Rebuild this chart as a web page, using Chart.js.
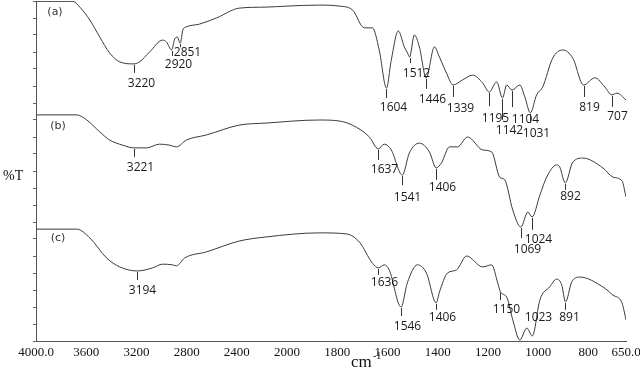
<!DOCTYPE html>
<html>
<head>
<meta charset="utf-8">
<script src="https://cdn.jsdelivr.net/npm/chart.js@4"></script>
<style>
    body { margin: 0; background: #fff; }
</style>
</head>
<body>
<canvas id="grafico" width="640" height="373"></canvas>
<script>
// espectro (a)
const ondasA = [4000, 3706, 3651, 3571, 3492, 3413, 3333, 3220, 3175, 3095, 2992, 2960, 2920, 2895, 2875, 2851, 2830, 2802, 2698, 2563,
    2381, 2167, 2000, 1872, 1792, 1740, 1692, 1660, 1633, 1604, 1585, 1557, 1533, 1520, 1512, 1493, 1473, 1446, 1413, 1393,
    1365, 1339, 1301, 1261, 1221, 1195, 1165, 1142, 1125, 1104, 1073, 1053, 1031, 1006, 982, 942, 902, 862, 819, 774,
    734, 707, 686, 650];
const valoresA = [99.9, 99.9, 98.2, 94.4, 89.4, 84.7, 82.1, 81.5, 82.1, 85.0, 88.5, 87.9, 85.6, 88.8, 89.4, 87.6, 91.5, 92.4, 93.2, 95.0,
    97.9, 98.2, 98.5, 98.8, 98.5, 97.4, 92.1, 92.1, 85.6, 74.4, 82.6, 91.2, 86.5, 84.7, 83.5, 90.0, 86.5, 77.4, 86.5, 83.5,
    78.8, 75.3, 76.8, 78.2, 75.9, 73.2, 76.2, 71.5, 75.3, 73.8, 75.3, 71.8, 67.1, 72.4, 74.7, 83.2, 85.6, 83.2, 75.3, 77.4,
    74.7, 72.4, 72.9, 70.9];

// espectro (b)
const ondasB = [4000, 3675, 3595, 3492, 3413, 3310, 3221, 3119, 3016, 2937, 2881, 2802, 2643, 2381, 2167, 1872, 1792, 1740, 1672, 1637,
    1613, 1585, 1541, 1513, 1473, 1433, 1406, 1385, 1353, 1321, 1281, 1221, 1185, 1153, 1133, 1101, 1069, 1041, 1024, 993,
    966, 926, 914, 892, 862, 822, 742, 702, 666, 650];
const valoresB = [66.5, 66.5, 65.0, 61.5, 59.1, 57.6, 56.8, 56.8, 57.9, 57.6, 57.1, 59.1, 60.6, 63.5, 64.1, 65.0, 64.7, 63.5, 60.0, 56.5,
    57.9, 56.2, 48.8, 55.3, 58.2, 55.6, 50.9, 52.4, 57.1, 57.1, 60.0, 56.2, 55.6, 48.2, 47.4, 38.5, 33.5, 37.9, 36.5, 42.9,
    48.2, 51.8, 51.2, 46.5, 52.6, 53.8, 50.9, 48.2, 47.1, 42.4];

// espectro (c)
const ondasC = [4000, 3675, 3571, 3437, 3333, 3194, 3071, 2992, 2913, 2881, 2817, 2643, 2381, 2167, 1872, 1764, 1712, 1660, 1636, 1613,
    1593, 1546, 1521, 1481, 1445, 1406, 1393, 1361, 1325, 1285, 1221, 1185, 1161, 1150, 1125, 1101, 1073, 1045, 1023, 993,
    954, 926, 906, 891, 866, 834, 742, 702, 666, 650];
const valoresC = [32.9, 32.9, 30.3, 24.4, 21.8, 20.6, 21.5, 22.6, 22.4, 22.1, 24.4, 26.2, 29.4, 30.6, 31.8, 31.5, 29.1, 22.9, 21.5, 22.4,
    20.9, 10.0, 17.1, 22.4, 20.0, 11.2, 14.4, 20.0, 20.9, 25.0, 21.8, 22.4, 17.1, 14.4, 12.9, 6.2, 0.3, 3.8, 1.5, 12.1,
    15.9, 18.2, 16.5, 11.5, 17.4, 18.8, 15.9, 13.5, 11.2, 6.2];

// picos marcados
const picosA = [3220, 2920, 2851, 1604, 1512, 1446, 1339, 1195, 1142, 1104, 1031, 819, 707];
const picosB = [3221, 1637, 1541, 1406, 1069, 1024, 892];
const picosC = [3194, 1636, 1546, 1406, 1150, 1023, 891];

const nombres = ['(a)', '(b)', '(c)'];

const ticksOnda = [4000, 3600, 3200, 2800, 2400, 2000, 1800, 1600, 1400, 1200, 1000, 800, 650];
const ticksTexto = ['4000.0', '3600', '3200', '2800', '2400', '2000', '1800', '1600', '1400', '1200', '1000', '800', '650.0'];

// [largo de la raya, dx del texto, dy del texto] en pixeles
const ajusteA = [[9, 7, 11], [6, 6, 9], [4, 7, 5], [10, 7, 10], [6, 6, 10], [11, 6, 11], [12, 7, 12],
    [14, 6, 12], [22, 7, 11], [17, 13, 12], [10, 6, 11], [12, 5, 11], [12, 5, 10]];
const ajusteB = [[9, 6, 11], [11, 6, 10], [10, 5, 12], [12, 6, 8], [11, 6, 11], [13, 6, 10], [7, 5, 7]];
const ajusteC = [[9, 5, 11], [7, 6, 8], [9, 6, 11], [7, 6, 8], [8, 6, 10], [0, 6, -18], [8, 4, 8]];
const posNombres = [[55, 12], [58, 126], [58, 238]];

// eje no lineal: 4000-2000 va a la mitad de escala
function posX(w) {
    return w >= 2000 ? (4000 - w) / 2 : 1000 + (2000 - w);
}

function interp(ondas, vals, w) {
    for (let i = 0; i < ondas.length - 1; i++) {
        if (w <= ondas[i] && w >= ondas[i + 1]) {
            const t = (ondas[i] - w) / (ondas[i] - ondas[i + 1]);
            return vals[i] + t * (vals[i + 1] - vals[i]);
        }
    }
    return vals[vals.length - 1];
}

const series = [
    { ondas: ondasA, valores: valoresA, picos: picosA, ajuste: ajusteA },
    { ondas: ondasB, valores: valoresB, picos: picosB, ajuste: ajusteB },
    { ondas: ondasC, valores: valoresC, picos: picosC, ajuste: ajusteC }
];

const marcas = {
    id: 'marcas',
    afterDatasetsDraw(chart) {
        const ctx = chart.ctx;
        const xs = chart.scales.x;
        const ys = chart.scales.y;
        ctx.save();
        ctx.strokeStyle = '#333';
        ctx.lineWidth = 1;
        ctx.fillStyle = '#1a1a1a';
        ctx.font = '12px "Open Sans"';
        ctx.textAlign = 'center';
        ctx.textBaseline = 'middle';
        series.forEach(s => {
            s.picos.forEach((p, i) => {
                const [largo, dx, dy] = s.ajuste[i];
                const x = Math.round(xs.getPixelForValue(posX(p))) + 0.5;
                const y0 = ys.getPixelForValue(interp(s.ondas, s.valores, p));
                if (largo > 0) {
                    ctx.beginPath();
                    ctx.moveTo(x, y0 + 1);
                    ctx.lineTo(x, y0 + largo);
                    ctx.stroke();
                }
                ctx.fillText(String(p), x + dx, y0 + largo + dy);
            });
        });

        // nombres de las curvas
        ctx.font = '11px "DejaVu Sans"';
        ctx.fillStyle = '#333';
        nombres.forEach((n, i) => {
            ctx.fillText(n, posNombres[i][0], posNombres[i][1]);
        });

        // titulos de ejes
        ctx.fillStyle = '#111';
        ctx.textAlign = 'left';
        ctx.font = '14px "Liberation Serif"';
        ctx.fillText('%T', 3, 176);
        ctx.textBaseline = 'alphabetic';
        ctx.font = '17px "Liberation Serif"';
        ctx.fillText('cm', 351, 367);
        ctx.font = '10px "Liberation Serif"';
        ctx.fillText('-1', 373, 359);
        ctx.restore();
    }
};

const ctx = document.getElementById('grafico').getContext('2d');
new Chart(ctx, {
    type: 'line',
    data: {
        datasets: series.map(s => ({
            data: s.ondas.map((w, i) => ({ x: posX(w), y: s.valores[i] })),
            borderColor: '#3a3a3a',
            borderWidth: 1,
            pointRadius: 0,
            cubicInterpolationMode: 'monotone',
            fill: false
        }))
    },
    options: {
        responsive: false,
        animation: false,
        layout: { padding: { top: 1, right: 14, left: 0, bottom: 0 } },
        plugins: { legend: { display: false }, tooltip: { enabled: false } },
        scales: {
            x: {
                type: 'linear',
                min: 0,
                max: posX(650),
                afterBuildTicks: scale => {
                    scale.ticks = ticksOnda.map(w => ({ value: posX(w) }));
                },
                afterFit: scale => {
                    scale.height = 32;
                    scale.paddingLeft = 0;
                    scale.paddingRight = 0;
                },
                ticks: {
                    autoSkip: false,
                    maxRotation: 0,
                    padding: 4,
                    color: '#111',
                    font: { family: 'Liberation Serif', size: 13 },
                    callback: (v, i) => ticksTexto[i]
                },
                grid: { drawOnChartArea: false, drawTicks: false },
                border: { display: true, color: '#555', width: 1 }
            },
            y: {
                min: 0,
                max: 100,
                afterFit: scale => { scale.width = 36; },
                ticks: { stepSize: 5, display: false },
                grid: { drawOnChartArea: false, drawTicks: true, tickLength: 3, color: '#666' },
                border: { display: true, color: '#555', width: 1 }
            }
        }
    },
    plugins: [marcas]
});
</script>
</body>
</html>
